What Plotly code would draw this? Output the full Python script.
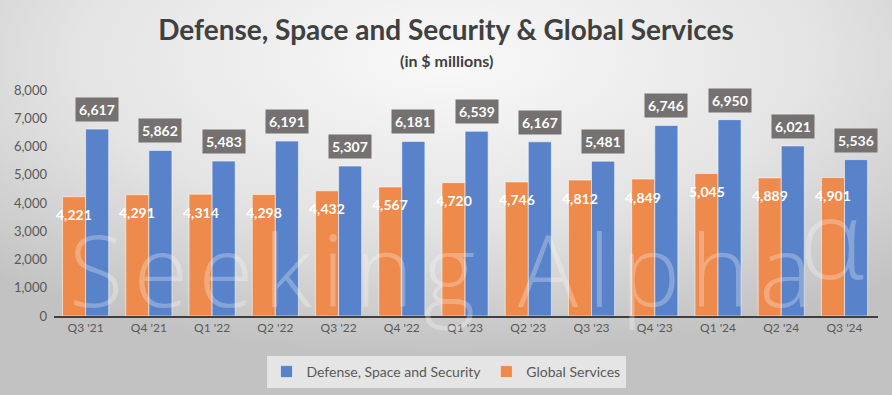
import base64
import plotly.graph_objects as go

quarters = ["Q3 '21", "Q4 '21", "Q1 '22", "Q2 '22", "Q3 '22", "Q4 '22", "Q1 '23",
            "Q2 '23", "Q3 '23", "Q4 '23", "Q1 '24", "Q2 '24", "Q3 '24"]
defense = [6617, 5862, 5483, 6191, 5307, 6181, 6539, 6167, 5481, 6746, 6950, 6021, 5536]
services = [4221, 4291, 4314, 4298, 4432, 4567, 4720, 4746, 4812, 4849, 5045, 4889, 4901]
y_ticks = [0, 1000, 2000, 3000, 4000, 5000, 6000, 7000, 8000]

BLUE = "#5882C9"
ORANGE = "#EE8A4B"
FONT = "Lato"

svg = """<svg xmlns='http://www.w3.org/2000/svg' width='892' height='395' viewBox='0 0 892 395' preserveAspectRatio='none'>
<defs><radialGradient id='g' cx='50%' cy='15%' r='75%'>
<stop offset='0' stop-color='#f9f9f9'/><stop offset='0.55' stop-color='#e4e4e4'/><stop offset='1' stop-color='#c2c2c2'/>
</radialGradient></defs><rect width='892' height='395' fill='url(#g)'/></svg>"""
bg_uri = "data:image/svg+xml;base64," + base64.b64encode(svg.encode()).decode()

fig = go.Figure()
fig.add_trace(go.Bar(x=quarters, y=services, name="Global Services",
                     marker=dict(color=ORANGE, line=dict(color="rgba(255,255,255,0.55)", width=1))))
fig.add_trace(go.Bar(x=quarters, y=defense, name="Defense, Space and Security",
                     marker=dict(color=BLUE, line=dict(color="rgba(255,255,255,0.55)", width=1))))

annotations = []
annotations.append(dict(x=(440 - 54) / 824, y=(316 - 268) / 226, xref="paper", yref="paper",
                        text="S\u200ae\u200ae\u200ak\u200ai\u200an\u200ag\u2009 A\u200al\u200ap\u200ah\u200aa",
                        showarrow=False, yanchor="middle",
                        font=dict(family="Open Sans", size=100, weight=300, color="rgba(255,255,255,0.28)")))
annotations.append(dict(x=(866 - 54) / 824, y=(316 - 236) / 226, xref="paper", yref="paper", text="α",
                        showarrow=False, yanchor="middle",
                        font=dict(family="Open Sans", size=110, weight=300, color="rgba(255,255,255,0.28)")))
for q, v in zip(quarters, services):
    annotations.append(dict(x=q, y=v, xref="x", yref="y", text=f"{v:,}", showarrow=False,
                            xshift=-11.5, yshift=-18, yanchor="middle",
                            font=dict(family=FONT, size=14, color="white", weight="bold")))
for q, v in zip(quarters, defense):
    annotations.append(dict(x=q, y=v, xref="x", yref="y", text=f"{v:,}", showarrow=False,
                            xshift=11.5, yshift=7, yanchor="bottom", bgcolor="#767171", borderpad=3,
                            font=dict(family=FONT, size=14, color="white", weight="bold")))
annotations.append(dict(x=(446 - 54) / 824, y=(316 - 61) / 226, xref="paper", yref="paper",
                        text="(in $ millions)", showarrow=False, yanchor="middle",
                        font=dict(family=FONT, size=16, color="#404040", weight="bold")))

fig.update_layout(
    width=892, height=395,
    margin=dict(l=54, r=14, t=90, b=79),
    paper_bgcolor="#d8d8d8", plot_bgcolor="rgba(0,0,0,0)",
    images=[dict(source=bg_uri, xref="paper", yref="paper", x=-54/824, y=1 + 90/226,
                 sizex=892/824, sizey=395/226, sizing="stretch", layer="below",
                 xanchor="left", yanchor="top")],
    title=dict(text="Defense, Space and Security & Global Services", x=0.5, xref="container",
               y=1 - 30/395, yref="container", xanchor="center", yanchor="middle",
               font=dict(family=FONT, size=28, color="#404040", weight="bold")),
    barmode="group", bargap=0.27, bargroupgap=0,
    xaxis=dict(showline=True, linecolor="#404040", linewidth=2, showgrid=False, ticks="",
               tickfont=dict(family=FONT, size=12, color="#595959"), automargin=False),
    yaxis=dict(range=[0, 8000], tickvals=y_ticks, tickformat=",", showgrid=False, zeroline=False,
               showline=False, tickfont=dict(family=FONT, size=13, color="#595959"),
               ticklabelstandoff=6, automargin=False),
    legend=dict(orientation="h", xref="container", yref="container", x=0.5, xanchor="center",
                y=1 - 356/395, yanchor="top", traceorder="reversed", bgcolor="rgba(240,240,240,0.75)",
                font=dict(family=FONT, size=14, color="#595959"), itemwidth=30),
    annotations=annotations,
    showlegend=True,
)

fig.write_html("out.html", config={"displayModeBar": False},
               post_script="document.body.style.margin='0';document.body.style.overflow='hidden';")
